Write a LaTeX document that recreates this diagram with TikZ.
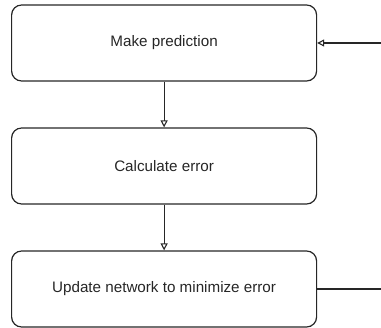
\documentclass[tikz,border=0pt]{standalone}
\usepackage{fontspec}
\setmainfont{Liberation Sans}
\usetikzlibrary{arrows.meta}
\begin{document}
\begin{tikzpicture}[x=1pt,y=-1pt,
  stepbox/.style={draw=black!85,line width=1.2pt,rounded corners=10pt,minimum width=305pt,minimum height=76pt,inner sep=0pt,font=\fontsize{15.2pt}{18pt}\selectfont,text=black!85},
  conn/.style={draw=black!85,line width=1.2pt},
  tip/.style={-{Triangle[open,length=7pt,width=7pt,line width=1.1pt]}}]
\useasboundingbox (0,0) rectangle (381,328);
\node[stepbox] (b1) at (164.1,43) {Make prediction};
\node[stepbox] (b2) at (164.1,166) {Calculate error};
\node[stepbox] (b3) at (164.1,289) {Update network to minimize error};
\coordinate (in) at (381,43);
\coordinate (out) at (381,289);
\draw[conn,tip] (b1.south) -- (b2.north);
\draw[conn,tip] (b2.south) -- (b3.north);
\draw[conn,tip] (in) -- (b1.east);
\draw[conn] (b3.east) -- (out);
\end{tikzpicture}
\end{document}
